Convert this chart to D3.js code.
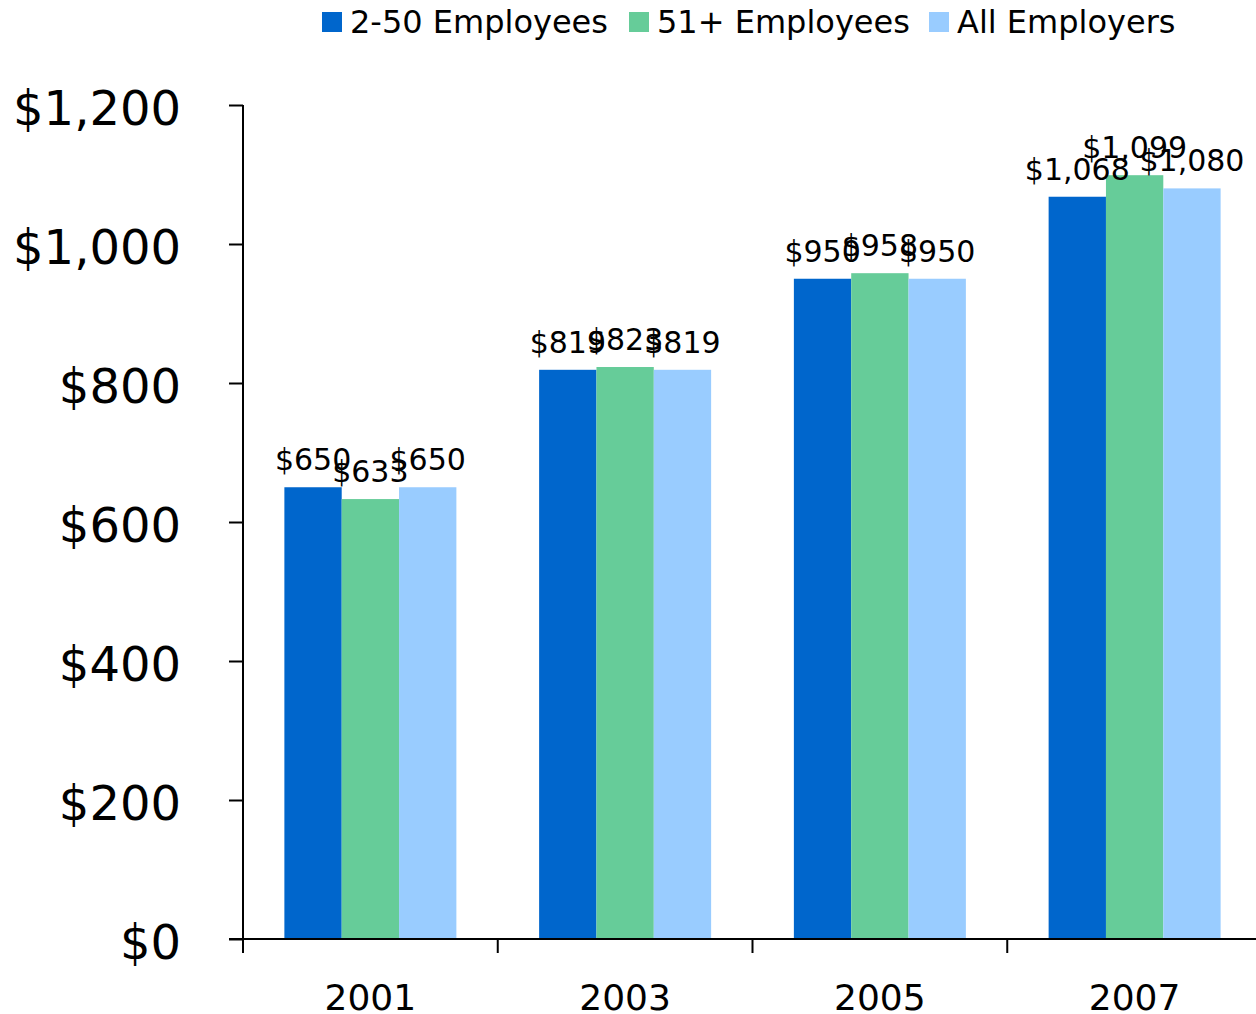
<!DOCTYPE html>
<html>
<head>
<meta charset="utf-8">
<script src="https://cdn.jsdelivr.net/npm/d3@7"></script>
<style>
  html, body { margin: 0; padding: 0; background: #fff; }
  svg { display: block; font-family: "DejaVu Sans", Verdana, sans-serif; }
</style>
</head>
<body>
<svg id="chart" width="1256" height="1014"></svg>
<script>
// Average annual premium by firm size
const years = ["2001", "2003", "2005", "2007"];
const seriesNames = ["2-50 Employees", "51+ Employees", "All Employers"];
const small = [650, 819, 950, 1068];
const large = [633, 823, 958, 1099];
const allEmployers = [650, 819, 950, 1080];
const yTicks = [0, 200, 400, 600, 800, 1000, 1200];
const colors = ["#0066CC", "#66CC99", "#99CCFF"];

const seriesValues = [small, large, allEmployers];

const svg = d3.select("#chart");
const x0 = 243, x1 = 1262, yBottom = 939, yTop = 105;

const x = d3.scaleBand().domain(years).range([x0, x1]).paddingInner(0).paddingOuter(0);
const groupWidth = 172;
const xs = d3.scaleBand().domain(seriesNames).range([0, groupWidth]).padding(0);
const y = d3.scaleLinear().domain([0, 1200]).range([yBottom, yTop]);

const fmt = v => "$" + d3.format(",")(v);

// bars
const groups = svg.append("g").selectAll("g")
  .data(years)
  .join("g")
  .attr("transform", d => `translate(${x(d) + (x.bandwidth() - groupWidth) / 2},0)`);

groups.selectAll("rect")
  .data((d, i) => seriesNames.map((s, k) => ({ s, k, v: seriesValues[k][i] })))
  .join("rect")
  .attr("x", d => xs(d.s))
  .attr("width", xs.bandwidth())
  .attr("y", d => y(d.v))
  .attr("height", d => yBottom - y(d.v))
  .attr("fill", d => colors[d.k]);

// value labels
groups.selectAll("text")
  .data((d, i) => seriesNames.map((s, k) => ({ s, k, v: seriesValues[k][i] })))
  .join("text")
  .attr("x", d => xs(d.s) + xs.bandwidth() / 2)
  .attr("y", d => y(d.v) - 17)
  .attr("text-anchor", "middle")
  .attr("font-size", 30)
  .attr("fill", "#000")
  .text(d => fmt(d.v));

// y axis
const yAxis = d3.axisLeft(y).tickValues(yTicks).tickFormat(fmt).tickSize(14).tickPadding(48);
const gy = svg.append("g").attr("transform", `translate(${x0},0)`).call(yAxis);
gy.select(".domain").attr("stroke", "#000").attr("stroke-width", 2).attr("d", `M0,${yTop}V${yBottom}`);
gy.selectAll(".tick line").attr("stroke", "#000").attr("stroke-width", 2);
gy.selectAll(".tick text").attr("font-size", 48).attr("dy", "0.4em")
  .attr("font-family", "DejaVu Sans, Verdana, sans-serif").attr("fill", "#000");

// x axis
const xAxis = d3.axisBottom(x).tickSize(0).tickPadding(45);
const gx = svg.append("g").attr("transform", `translate(0,${yBottom})`).call(xAxis);
gx.select(".domain").attr("stroke", "#000").attr("stroke-width", 2).attr("d", `M${x0 - 14},0H${x1}`);
gx.selectAll(".tick text").attr("font-size", 36).attr("font-family", "DejaVu Sans, Verdana, sans-serif").attr("fill", "#000");
// category boundary ticks
gx.append("g").selectAll("line")
  .data(years)
  .join("line")
  .attr("x1", d => x(d)).attr("x2", d => x(d))
  .attr("y1", 0).attr("y2", 14)
  .attr("stroke", "#000").attr("stroke-width", 2);

// legend
const legendX = [322, 629, 929];
const legend = svg.append("g").selectAll("g")
  .data(seriesNames)
  .join("g")
  .attr("transform", (d, i) => `translate(${legendX[i]},12)`);
legend.append("rect").attr("width", 20).attr("height", 20).attr("fill", (d, i) => colors[i]);
legend.append("text").attr("x", 28).attr("y", 21).attr("font-size", 32).attr("fill", "#000").text(d => d);
</script>
</body>
</html>
